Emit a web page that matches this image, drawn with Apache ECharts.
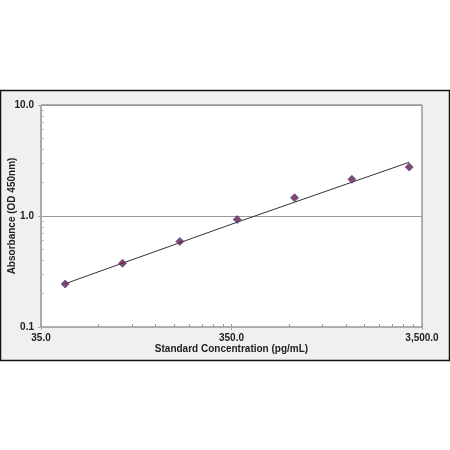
<!DOCTYPE html>
<html><head><meta charset="utf-8">
<script src="https://cdn.jsdelivr.net/npm/echarts@6/dist/echarts.min.js"></script>
<style>html,body{margin:0;padding:0;background:#fff}#c{width:450px;height:450px}</style>
</head><body><div id="c"></div>
<script>
var concentrations = [46.875, 93.75, 187.5, 375, 750, 1500, 3000];
var absorbance = [0.244, 0.375, 0.59, 0.93, 1.46, 2.14, 2.76];
var fitX = [46.875, 375, 3000];
var fitY = [0.2455, 0.88, 3.05];
var xTickValues = [35, 350, 3500];
var xTickLabels = ['35.0', '350.0', '3,500.0'];
var xMinorTicks = [70, 105, 140, 175, 210, 245, 280, 315, 700, 1050, 1400, 1750, 2100, 2450, 2800, 3150];
var yTickValues = [0.1, 1, 10];
var yTickLabels = ['0.1', '1.0', '10.0'];
var yMinorTicks = [0.2, 0.3, 0.4, 0.5, 0.6, 0.7, 0.8, 0.9, 2, 3, 4, 5, 6, 7, 8, 9];
var xName = 'Standard Concentration (pg/mL)';
var yName = 'Absorbance (OD 450nm)';

function pairs(a, b) { return a.map(function (v, i) { return [v, b[i]]; }); }
function labelFor(values, labels) {
  return function (v) {
    for (var i = 0; i < values.length; i++) if (Math.abs(v - values[i]) / values[i] < 1e-6) return labels[i];
    return '';
  };
}
var font = 'Liberation Sans, Arial, sans-serif';
var chart = echarts.init(document.getElementById('c'), null, {renderer: 'canvas'});
chart.setOption({
  animation: false,
  backgroundColor: '#ffffff',
  graphic: [{
    type: 'rect', z: -100, silent: true,
    shape: {x: 0.5, y: 90.5, width: 449, height: 270},
    style: {fill: '#f0f0f0', stroke: '#111', lineWidth: 1.5}
  }],
  grid: {left: 41, top: 105, right: 28, bottom: 123, show: true, backgroundColor: '#fff', borderColor: '#666', borderWidth: 1,
    containLabel: false, outerBoundsMode: 'none'},
  xAxis: [{
    type: 'log', logBase: 10, min: 35, max: 3500, gridIndex: 0, position: 'bottom',
    name: xName, nameLocation: 'middle', nameGap: 17, nameMoveOverlap: false,
    nameTextStyle: {fontFamily: font, fontWeight: 'bold', fontSize: 10, color: '#222'},
    axisLine: {show: true, onZero: false, lineStyle: {color: '#aaa', width: 1}},
    axisTick: {show: true, customValues: xTickValues, length: 3, inside: false, lineStyle: {color: '#aaa'}},
    axisLabel: {show: true, customValues: xTickValues, formatter: labelFor(xTickValues, xTickLabels), margin: 6,
      fontFamily: font, fontWeight: 'bold', fontSize: 10, color: '#222', showMinLabel: true, showMaxLabel: true},
    splitLine: {show: false}, minorTick: {show: false}
  }, {
    type: 'log', logBase: 10, min: 35, max: 3500, gridIndex: 0, position: 'bottom',
    axisLine: {show: false, onZero: false},
    axisTick: {show: true, customValues: xMinorTicks.concat(xTickValues), length: 3, inside: true, lineStyle: {color: '#999'}},
    axisLabel: {show: false}, splitLine: {show: false}
  }],
  yAxis: [{
    type: 'log', logBase: 10, min: 0.1, max: 10, gridIndex: 0, position: 'left',
    name: yName, nameLocation: 'middle', nameGap: 24, nameRotate: 90, nameMoveOverlap: false,
    nameTextStyle: {fontFamily: font, fontWeight: 'bold', fontSize: 10, color: '#222'},
    axisLine: {show: true, onZero: false, lineStyle: {color: '#aaa', width: 1}},
    axisTick: {show: true, customValues: yTickValues, length: 3, inside: false, lineStyle: {color: '#aaa'}},
    axisLabel: {show: true, customValues: yTickValues, formatter: labelFor(yTickValues, yTickLabels), margin: 7,
      fontFamily: font, fontWeight: 'bold', fontSize: 10, color: '#222', showMinLabel: true, showMaxLabel: true},
    splitLine: {show: true, lineStyle: {color: '#999', width: 1}}
  }, {
    type: 'log', logBase: 10, min: 0.1, max: 10, gridIndex: 0, position: 'left',
    axisLine: {show: false, onZero: false},
    axisTick: {show: true, customValues: yMinorTicks, length: 3, inside: true, lineStyle: {color: '#bbb'}},
    axisLabel: {show: false}, splitLine: {show: false}
  }],
  series: [{
    type: 'line', xAxisIndex: 0, yAxisIndex: 0, data: pairs(fitX, fitY),
    showSymbol: false, symbol: 'none', smooth: false,
    lineStyle: {color: '#333', width: 1}, z: 2
  }, {
    type: 'scatter', xAxisIndex: 0, yAxisIndex: 0, data: pairs(concentrations, absorbance),
    symbol: 'diamond', symbolSize: 8,
    itemStyle: {color: '#6a1a3c', borderColor: '#4b4fa8', borderWidth: 1}, z: 3
  }]
});
</script></body></html>
